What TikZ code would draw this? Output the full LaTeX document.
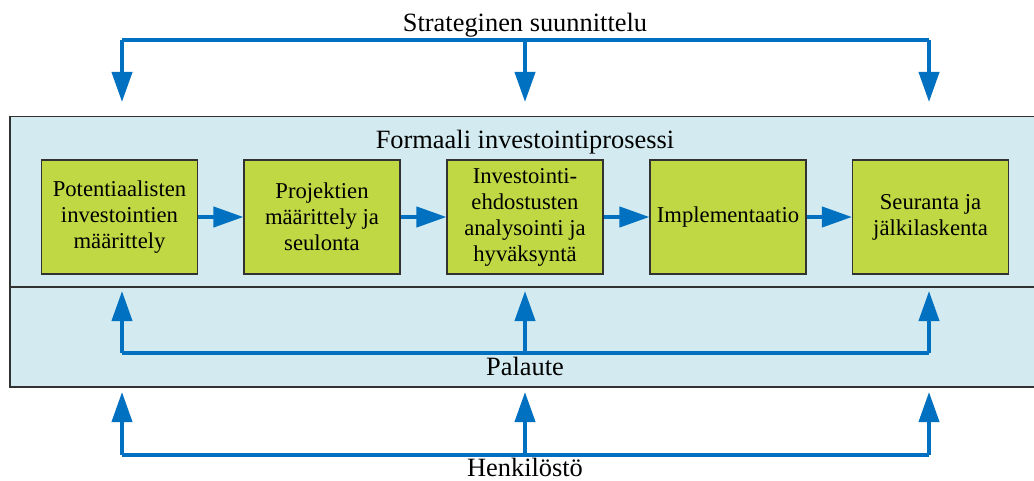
\documentclass[tikz,border=0pt]{standalone}
\usepackage{fontspec}
\setmainfont{Liberation Serif}
\usetikzlibrary{arrows.meta}
\definecolor{panelblue}{RGB}{211,235,240}
\definecolor{boxgreen}{RGB}{192,216,68}
\definecolor{flowblue}{RGB}{0,112,192}
\definecolor{edgegray}{RGB}{50,50,50}
\tikzset{
  title/.style={font=\fontsize{19.8}{24}\selectfont, anchor=base, inner sep=0pt},
  stage/.style={draw=edgegray, line width=0.8pt, fill=boxgreen, minimum width=117pt, minimum height=85.5pt, inner sep=0pt, align=center, font=\fontsize{17}{19.5}\selectfont},
  panel/.style={draw=edgegray, line width=1pt, fill=panelblue},
  flow/.style={draw=flowblue, line width=3pt, line join=miter, -{Triangle[length=22.5pt,width=15pt]}},
  flowline/.style={draw=flowblue, line width=3pt, line join=miter},
}
\begin{document}
\begin{tikzpicture}[x=0.75pt,y=-0.75pt]
\useasboundingbox (0,0) rectangle (1034,481);
% panels
\path[panel] (10,116.5) rectangle (1040,287);
\path[panel] (10,287) rectangle (1040,387);
% titles
\node[title] (strat) at (525,32) {Strateginen suunnittelu};
\node[title] (formal) at (525,148) {Formaali investointiprosessi};
\node[title] (palaute) at (525,375.5) {Palaute};
\node[title] (henk) at (525,476.5) {Henkilöstö};
% stage boxes
\node[stage] (b1) at (119.5,217) {Potentiaalisten\\investointien\\määrittely};
\node[stage] (b2) at (322,217) {Projektien\\määrittely ja\\seulonta};
\node[stage] (b3) at (525,217) {Investointi-\\ehdostusten\\analysointi ja\\hyväksyntä};
\node[stage] (b4) at (728,217) {Implementaatio};
\node[stage] (b5) at (930.5,217) {Seuranta ja\\jälkilaskenta};
% arrows between stages
\draw[flow] (b1.east) -- (b2.west);
\draw[flow] (b2.east) -- (b3.west);
\draw[flow] (b3.east) -- (b4.west);
\draw[flow] (b4.east) -- (b5.west);
% top: strategic planning
\coordinate (sL) at (122,40.5);
\coordinate (sM) at (525,40.5);
\coordinate (sR) at (929,40.5);
\coordinate (sLt) at (122,102);
\coordinate (sMt) at (525,102);
\coordinate (sRt) at (929,102);
\draw[flowline] (sL) -- (sR);
\draw[flow] (sL) -- (sLt);
\draw[flow] (sM) -- (sMt);
\draw[flow] (sR) -- (sRt);
% feedback
\coordinate (fL) at (122,353);
\coordinate (fM) at (525,353);
\coordinate (fR) at (929,353);
\coordinate (fLt) at (122,291);
\coordinate (fMt) at (525,291);
\coordinate (fRt) at (929,291);
\draw[flowline] (fL) -- (fR);
\draw[flow] (fL) -- (fLt);
\draw[flow] (fM) -- (fMt);
\draw[flow] (fR) -- (fRt);
% personnel
\coordinate (hL) at (122,455);
\coordinate (hM) at (525,455);
\coordinate (hR) at (929,455);
\coordinate (hLt) at (122,392);
\coordinate (hMt) at (525,392);
\coordinate (hRt) at (929,392);
\draw[flowline] (hL) -- (hR);
\draw[flow] (hL) -- (hLt);
\draw[flow] (hM) -- (hMt);
\draw[flow] (hR) -- (hRt);
\end{tikzpicture}
\end{document}
